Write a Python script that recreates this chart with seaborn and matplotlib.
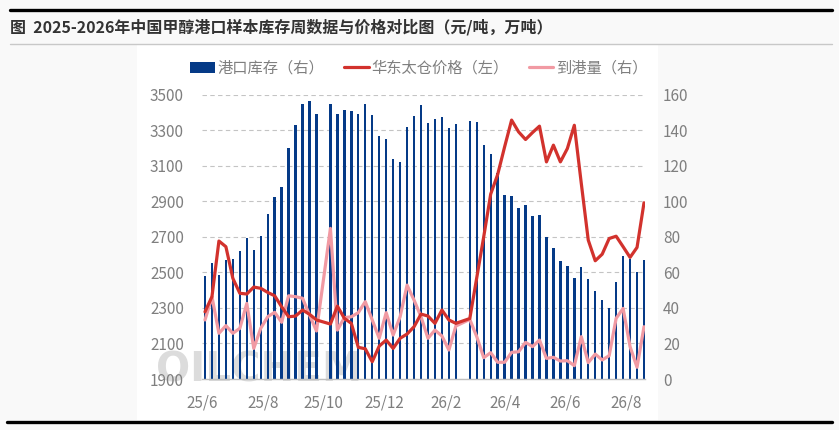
import matplotlib
matplotlib.use("Agg")
import matplotlib.dates as mdates
import matplotlib.pyplot as plt
import numpy as np
import pandas as pd
import seaborn as sns
from matplotlib.lines import Line2D
from matplotlib.patches import Patch, Rectangle

# semanas (quarta-feira); as semanas do feriado nacional e do ano novo chines nao tem dados
weeks = pd.date_range("2025-06-04", periods=64, freq="7D").delete([17, 37])

# 港口库存 (万吨, eixo direito)
stock = [57.9, 65.2, 58.4, 67.1, 67.4, 71.9, 79.2, 72.5, 80.7, 92.7,
         102.3, 107.9, 130.0, 142.7, 154.9, 156.2, 149.3,
         154.4, 149.3, 151.2, 150.6, 148.9, 154.6, 148.4, 136.6, 134.9,
         123.6, 121.9, 141.6, 147.8, 154.0, 143.9, 146.1, 147.2, 141.0, 143.3,
         145.2, 144.4, 131.5, 126.5, 115.6, 103.4, 102.8, 96.1, 97.8, 91.6,
         92.2, 80.0, 73.6, 66.3, 63.5, 56.8, 62.9, 56.2, 49.5, 44.4,
         39.9, 54.5, 69.1, 67.6, 60.1, 66.9]

# 华东太仓价格 (元/吨, eixo esquerdo)
price = [2278, 2363, 2676, 2644, 2466, 2382, 2378, 2417, 2410, 2387,
         2368, 2306, 2250, 2254, 2288, 2264, 2232,
         2209, 2310, 2241, 2213, 2078, 2070, 1997, 2085, 2119,
         2072, 2129, 2153, 2194, 2265, 2254, 2213, 2288, 2232, 2213,
         2240, 2470, 2700, 2940, 3050, 3206, 3356, 3290, 3247, 3286,
         3322, 3121, 3215, 3121, 3196, 3327, 3000, 2681, 2565, 2602,
         2690, 2703, 2644, 2584, 2640, 2891]

# 到港量 (万吨, eixo direito)
arrival = [33.2, 46.3, 25.7, 30.0, 25.7, 28.5, 42.5, 17.2, 28.5, 35.0,
           37.5, 31.9, 46.8, 46.3, 45.4, 36.0, 27.0,
           84.7, 27.5, 34.5, 35.0, 37.3, 43.5, 33.2, 22.9, 37.3,
           24.7, 35.0, 52.8, 44.4, 35.0, 22.9, 27.5, 24.2, 16.3, 29.8,
           33.5, 23.8, 12.0, 14.8, 9.4, 9.4, 15.0, 15.3, 20.6, 18.2,
           21.9, 11.6, 12.2, 10.1, 10.3, 7.5, 23.8, 9.2, 14.0, 10.7,
           13.1, 34.1, 39.7, 18.2, 6.6, 29.4]

tick_dates = pd.date_range("2025-06-01", periods=8, freq="2MS")
tick_labels = ["25/6", "25/8", "25/10", "25/12", "26/2", "26/4", "26/6", "26/8"]
left_ticks = list(range(1900, 3501, 200))
right_ticks = list(range(0, 161, 20))

title = "图  2025-2026年中国甲醇港口样本库存周数据与价格对比图（元/吨，万吨）"
legend_labels = ["港口库存（右）", "华东太仓价格（左）", "到港量（右）"]

NAVY = "#053a87"
RED = "#d2322d"
PINK = "#f19aa3"
GRAY_TXT = "#7f7f7f"
GRID = "#c4c4c4"


def px(x, y):
    ''' converte pixels da imagem em fracao da figura '''
    return x / 839, 1 - y / 430


def main():
    sns.set_style("white")
    plt.rcParams["font.family"] = ["Noto Sans CJK SC", "DejaVu Sans"]

    fig = plt.figure(figsize=(8.39, 4.30), dpi=100, facecolor="#f9f9f9")

    # painel branco atras do grafico
    x0, y0 = px(137, 420)
    x1, y1 = px(658, 44)
    fig.add_artist(Rectangle((x0, y0), x1 - x0, y1 - y0, transform=fig.transFigure,
                             facecolor="white", edgecolor="none", zorder=-2))

    # linhas do cabecalho e do rodape
    fig.add_artist(Line2D([10 / 839, 832 / 839], [px(0, 10)[1]] * 2, color="black",
                          lw=2.4, transform=fig.transFigure))
    fig.add_artist(Line2D([10 / 839, 832 / 839], [px(0, 43.5)[1]] * 2, color="#c8c8c8",
                          lw=1.0, transform=fig.transFigure))
    fig.add_artist(Line2D([7 / 839, 832 / 839], [px(0, 421.5)[1]] * 2, color="black",
                          lw=2.4, transform=fig.transFigure))

    fig.text(*px(10, 27), title, fontsize=11.5, fontweight="bold", color="#333333",
             va="center", ha="left")

    # marca d'agua
    fig.text(*px(156, 370), "OILCHEM", fontsize=29, fontweight="bold", color="#dcdcdc",
             family="DejaVu Sans", va="center", ha="left", zorder=-1)

    left, bottom = px(202, 379)
    right, top = px(645, 94.5)
    ax = fig.add_axes([left, bottom, right - left, top - bottom])
    ax.set_facecolor("none")

    xnum = mdates.date2num(weeks)
    df = pd.DataFrame({"x": xnum, "stock": stock, "price": price, "arrival": arrival})

    sns.barplot(data=df, x="x", y="stock", ax=ax, native_scale=True, color=NAVY,
                saturation=1, width=2.4 / 7, errorbar=None, linewidth=0)
    sns.lineplot(data=df, x="x", y="arrival", ax=ax, color=PINK, lw=2.3)

    ax2 = ax.twinx()
    sns.lineplot(data=df, x="x", y="price", ax=ax2, color=RED, lw=2.3)

    ax.set_ylim(0, 160)
    ax2.set_ylim(1900, 3500)
    ax.set_yticks(right_ticks)
    ax2.set_yticks(left_ticks)
    ax.yaxis.tick_right()
    ax2.yaxis.tick_left()

    xmin = mdates.date2num(pd.Timestamp("2025-06-01"))
    xmax = mdates.date2num(pd.Timestamp("2026-08-20"))
    ax.set_xlim(xmin, xmax)
    ax.set_xticks(mdates.date2num(tick_dates))
    ax.set_xticklabels(tick_labels)

    for a in (ax, ax2):
        a.set_xlabel("")
        a.set_ylabel("")
        for s in a.spines.values():
            s.set_visible(False)
    ax.spines["bottom"].set_visible(True)
    ax.spines["bottom"].set_color("#bfbfbf")
    ax.spines["bottom"].set_linewidth(1.0)

    ax.set_axisbelow(True)
    ax.grid(axis="y", color=GRID, lw=0.8, ls=(0, (4, 3)))
    ax.grid(axis="x", visible=False)

    ax.tick_params(axis="x", direction="in", length=3, width=0.8, color="#bfbfbf",
                   labelsize=11, labelcolor=GRAY_TXT, pad=11)
    ax.tick_params(axis="y", length=0, labelsize=11, labelcolor=GRAY_TXT, pad=13)
    ax2.tick_params(axis="y", length=0, labelsize=11, labelcolor=GRAY_TXT, pad=13)

    handles = [Patch(facecolor=NAVY, edgecolor="none"),
               Line2D([], [], color=RED, lw=2.3),
               Line2D([], [], color=PINK, lw=2.3)]
    fig.legend(handles, legend_labels, loc="center", bbox_to_anchor=px(419, 68), ncol=3,
               frameon=False, fontsize=11, labelcolor=GRAY_TXT, handlelength=1.6,
               handletextpad=0.2, columnspacing=1.3)

    fig.savefig("out.png", dpi=100, facecolor=fig.get_facecolor())


if __name__ == "__main__":
    main()
